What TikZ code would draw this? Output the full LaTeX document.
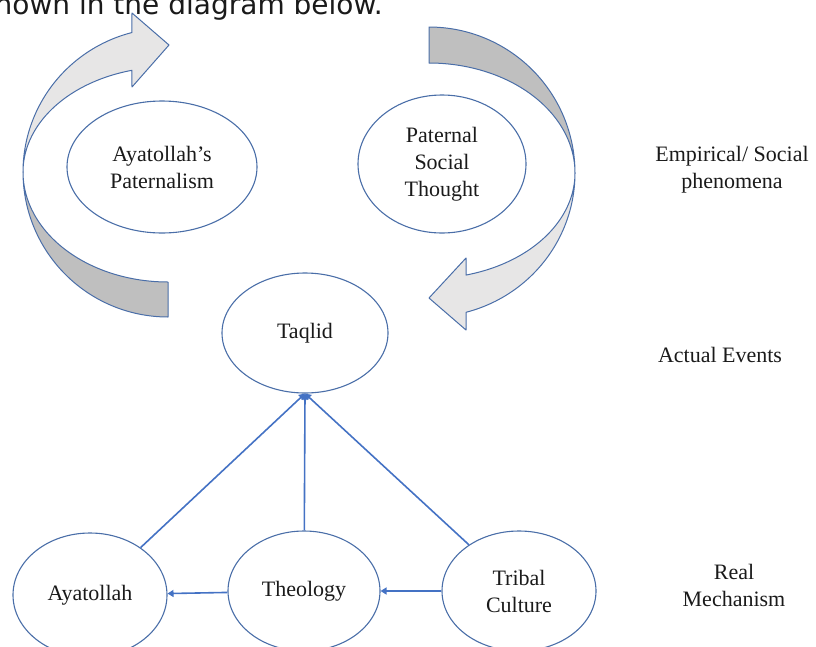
\documentclass[tikz,border=0pt]{standalone}
\usepackage{fontspec}
\setmainfont{Liberation Serif}
\newfontfamily\topfont{DejaVu Sans}
\usetikzlibrary{shapes.geometric,arrows.meta}
\definecolor{elline}{HTML}{4A6EA8}
\definecolor{arline}{HTML}{4472C4}
\definecolor{lightg}{HTML}{E7E6E6}
\definecolor{darkg}{HTML}{BFBFBF}
\definecolor{txt}{HTML}{1A1A1A}
\begin{document}
\begin{tikzpicture}[x=1pt,y=-1pt,
  el/.style={ellipse, draw=elline, line width=1.1pt, inner sep=0pt, align=center, text=txt,
    font=\fontsize{22}{27}\selectfont},
  lab/.style={align=center, text=txt, font=\fontsize{22}{27}\selectfont},
  conn/.style={draw=arline, line width=1.6pt, -{Triangle[width=7pt,length=6pt]}},
  band/.style={draw=elline, line width=1pt, line join=round}]
\useasboundingbox (0,0) rectangle (816,646);
\clip (0,0) rectangle (816,646);

% cut-off sentence at the top
\node[anchor=base east, inner sep=0pt, text=txt, font=\topfont\fontsize{28}{30}\selectfont] (topline) at (383,14) {shown in the diagram below.};

% left curved arrow
\filldraw[band, fill=lightg] plot[domain=180:255.6, samples=50, variable=\t] ({168+145*cos(\t)}, {172+144*sin(\t)})
  -- (132,13) -- (169,45) -- (132,87)
  -- plot[domain=255.6:180, samples=50, variable=\t] ({168+145*cos(\t)}, {172+105*sin(\t)}) -- cycle;
\filldraw[band, fill=darkg] plot[domain=180:90, samples=50, variable=\t] ({168+145*cos(\t)}, {172+145*sin(\t)})
  -- plot[domain=90:180, samples=50, variable=\t] ({168+145*cos(\t)}, {172+110*sin(\t)}) -- cycle;

% right curved arrow
\filldraw[band, fill=darkg] plot[domain=-90:0, samples=50, variable=\t] ({429+146*cos(\t)}, {173+146*sin(\t)})
  -- plot[domain=0:-90, samples=50, variable=\t] ({429+146*cos(\t)}, {173+110*sin(\t)}) -- cycle;
\filldraw[band, fill=lightg] plot[domain=0:75.3, samples=50, variable=\t] ({429+146*cos(\t)}, {173+144*sin(\t)})
  -- (466,330) -- (429,298) -- (466,258)
  -- plot[domain=75.3:0, samples=50, variable=\t] ({429+146*cos(\t)}, {173+105.5*sin(\t)}) -- cycle;

% ellipses
\node[el, minimum width=190pt, minimum height=132pt] (ap) at (162,167) {Ayatollah’s\\Paternalism};
\node[el, minimum width=168pt, minimum height=138pt] (pst) at (442,164) {Paternal\\Social\\Thought};
\node[el, minimum width=166pt, minimum height=120pt] (taq) at (305,333) {Taqlid};
\node[el, minimum width=154pt, minimum height=124pt] (ay) at (90,595) {Ayatollah};
\node[el, minimum width=152pt, minimum height=120pt] (theo) at (304,591) {Theology};
\node[el, minimum width=154pt, minimum height=120pt] (trib) at (519,591) {Tribal\\Culture};

% level labels
\node[lab] (emp) at (732,170) {Empirical/ Social\\phenomena};
\node[lab] (act) at (720,355) {Actual Events};
\node[lab] (real) at (734,585) {Real\\Mechanism};

% connectors
\draw[conn] (theo) -- (ay);
\draw[conn] (trib) -- (theo);
\draw[conn] (ay) -- (taq.south);
\draw[conn] (theo) -- (taq.south);
\draw[conn] (trib) -- (taq.south);
\end{tikzpicture}
\end{document}
